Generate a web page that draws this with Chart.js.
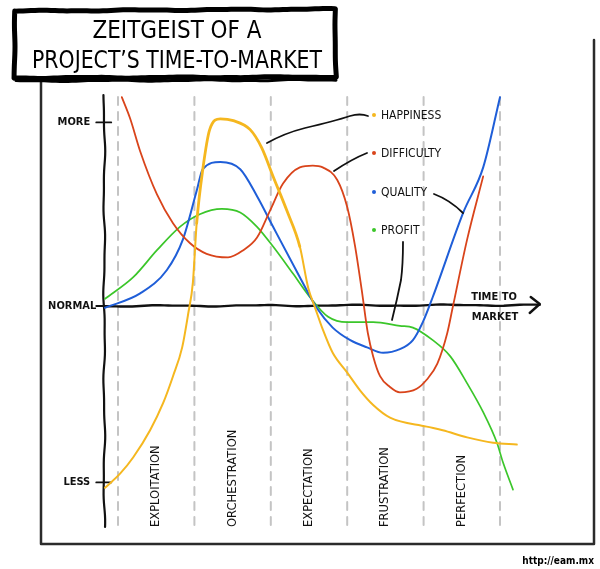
<!DOCTYPE html>
<html>
<head>
<meta charset="utf-8">
<script src="https://cdn.jsdelivr.net/npm/chart.js@4.4.1/dist/chart.umd.min.js"></script>
<style>
  html, body { margin:0; padding:0; background:#fff; }
  #wrap { width:600px; height:569px; }
</style>
</head>
<body>
<div id="wrap"><canvas id="chart" width="600" height="569"></canvas></div>
<script>
// ── data ─────────────────────────────────────
const phases      = ['EXPLOITATION','ORCHESTRATION','EXPECTATION','FRUSTRATION','PERFECTION'];
const phaseEdges  = [0, 1, 2, 3, 4, 5];
const yTickLabels = ['MORE', 'NORMAL', 'LESS'];
const yTickValues = [1.02, 0, -0.98];

// [phase position, level]  (NORMAL = 0, MORE ≈ 1, LESS ≈ -1)
const happiness = [[-0.17,-1.01],[0.03,-0.93],[0.20,-0.84],[0.42,-0.69],[0.59,-0.54],[0.72,-0.39],
  [0.84,-0.23],[0.92,-0.04],[0.98,0.13],[1.03,0.46],[1.11,0.76],[1.20,0.98],[1.34,1.04],[1.51,1.03],
  [1.73,0.98],[1.88,0.88],[2.03,0.72],[2.21,0.53],[2.38,0.33],[2.49,0.10],[2.58,-0.01],[2.68,-0.13],
  [2.81,-0.26],[3.00,-0.37],[3.17,-0.47],[3.34,-0.55],[3.56,-0.62],[4.04,-0.67],[4.25,-0.69],
  [4.57,-0.73],[4.91,-0.76],[5.22,-0.77]];
const difficulty = [[0.05,1.16],[0.16,1.04],[0.29,0.86],[0.51,0.62],[0.72,0.46],[0.94,0.35],[1.16,0.29],
  [1.44,0.27],[1.64,0.31],[1.82,0.38],[1.99,0.53],[2.16,0.68],[2.38,0.77],[2.55,0.78],[2.68,0.77],
  [2.87,0.70],[3.00,0.55],[3.10,0.34],[3.19,0.09],[3.27,-0.15],[3.34,-0.28],[3.43,-0.39],[3.56,-0.45],
  [3.69,-0.48],[3.91,-0.46],[4.04,-0.41],[4.18,-0.32],[4.31,-0.15],[4.38,-0.01],[4.57,0.37],[4.78,0.72]];
const quality = [[-0.17,-0.01],[0.29,0.07],[0.64,0.20],[0.85,0.37],[1.03,0.64],[1.11,0.76],[1.34,0.80],
  [1.60,0.76],[1.82,0.61],[2.03,0.44],[2.38,0.16],[2.60,-0.01],[2.81,-0.12],[3.04,-0.19],[3.26,-0.23],
  [3.47,-0.26],[3.69,-0.24],[3.86,-0.19],[3.99,-0.09],[4.12,0.05],[4.52,0.52],[4.78,0.77],[5.00,1.16]];
const profit = [[-0.17,0.04],[0.20,0.16],[0.51,0.31],[0.81,0.44],[1.07,0.51],[1.36,0.54],[1.60,0.52],
  [1.82,0.44],[2.03,0.33],[2.29,0.18],[2.51,0.05],[2.75,-0.06],[3.00,-0.09],[3.34,-0.09],[3.69,-0.11],
  [3.86,-0.12],[4.12,-0.19],[4.35,-0.28],[4.57,-0.43],[4.78,-0.59],[4.96,-0.76],[5.04,-0.87],[5.17,-1.02]];

const FONT  = '"DejaVu Sans Condensed","DejaVu Sans",sans-serif';
const FONTW = '"DejaVu Sans",sans-serif';
const INK   = '#111';

const toXY = arr => arr.map(([x,y]) => ({ x, y }));

// ── sketchy helpers ───────────────────────────
function rough(ctx, pts, amp, seed) {
  ctx.beginPath();
  let first = true, dist = 0;
  for (let i = 0; i < pts.length-1; i++) {
    const [x1,y1] = pts[i], [x2,y2] = pts[i+1];
    const len = Math.hypot(x2-x1, y2-y1) || 1;
    const n = Math.max(2, Math.round(len/4));
    const nx = -(y2-y1)/len, ny = (x2-x1)/len;
    for (let k = 0; k <= n; k++) {
      const t = k/n, d = dist + len*t;
      const o = amp*(0.7*Math.sin(d/15 + seed) + 0.3*Math.sin(d/6.5 + seed*2.3));
      const px = x1+(x2-x1)*t+nx*o, py = y1+(y2-y1)*t+ny*o;
      if (first) { ctx.moveTo(px,py); first = false; } else ctx.lineTo(px,py);
    }
    dist += len;
  }
  ctx.stroke();
}

function fitText(ctx, txt, cx, y, w) {
  const m = ctx.measureText(txt).width;
  ctx.save();
  ctx.translate(cx, y);
  ctx.scale(w/m, 1);
  ctx.textAlign = 'center';
  ctx.fillText(txt, 0, 0);
  ctx.restore();
}

const sketch = {
  id: 'sketch',
  beforeDraw(chart) {
    const ctx = chart.ctx;
    ctx.save();
    ctx.fillStyle = '#fff';
    ctx.fillRect(0, 0, chart.width, chart.height);
    ctx.restore();
  },
  beforeDatasetsDraw(chart) {
    const { ctx, scales: { x, y } } = chart;
    ctx.save();
    ctx.lineCap = 'round'; ctx.lineJoin = 'round';

    // frame
    ctx.strokeStyle = '#2b2b2b'; ctx.lineWidth = 2.5;
    ctx.beginPath(); ctx.moveTo(41, 82); ctx.lineTo(41, 544); ctx.lineTo(594, 544); ctx.lineTo(594, 40); ctx.stroke();

    // dashed phase boundaries
    ctx.strokeStyle = '#c4c4c4'; ctx.lineWidth = 2; ctx.setLineDash([8, 7]);
    phaseEdges.forEach(v => {
      const px = x.getPixelForValue(v);
      ctx.beginPath(); ctx.moveTo(px, 97); ctx.lineTo(px, 527); ctx.stroke();
    });
    ctx.setLineDash([]);

    // axes
    const ax = x.getPixelForValue(-0.18), ay = y.getPixelForValue(0);
    ctx.strokeStyle = INK; ctx.lineWidth = 2.2;
    rough(ctx, [[ax, 95], [ax, 527]], 1.0, 1);
    ctx.lineWidth = 2.4;
    const tip = x.getPixelForValue(5.52);
    rough(ctx, [[ax, ay], [tip, ay-1]], 0.8, 7);
    ctx.beginPath(); ctx.moveTo(tip-9, ay-9); ctx.lineTo(tip, ay-2); ctx.lineTo(tip-10, ay+7); ctx.stroke();

    // y ticks + labels
    ctx.fillStyle = INK; ctx.font = 'bold 11px ' + FONT;
    ctx.textAlign = 'right'; ctx.textBaseline = 'middle';
    yTickValues.forEach((v, i) => {
      const py = y.getPixelForValue(v);
      ctx.lineWidth = 1.8;
      ctx.beginPath(); ctx.moveTo(ax-8, py); ctx.lineTo(ax + (i === 1 ? 0 : 7), py); ctx.stroke();
      ctx.fillText(yTickLabels[i], ax - (i === 1 ? 8 : 14), py);
    });

    // phase names
    ctx.font = '11.5px ' + FONTW; ctx.textAlign = 'left'; ctx.textBaseline = 'middle';
    phases.forEach((p, i) => {
      const px = x.getPixelForValue(i + 0.5);
      ctx.save(); ctx.translate(px, 527); ctx.rotate(-Math.PI/2);
      ctx.fillText(p, 0, 0); ctx.restore();
    });

    // time to market
    ctx.font = 'bold 11px ' + FONT; ctx.textAlign = 'center'; ctx.textBaseline = 'alphabetic';
    ctx.fillText('TIME TO', 494, 300);
    ctx.fillText('MARKET', 495, 320);
    ctx.restore();
  },
  afterDatasetsDraw(chart) {
    const ctx = chart.ctx;
    const ds = chart.data.datasets;
    ctx.save();
    ctx.lineCap = 'round'; ctx.lineJoin = 'round';

    // legend
    const ly = [115, 153, 192, 230];
    ctx.font = '12px ' + FONT; ctx.textBaseline = 'middle'; ctx.textAlign = 'left';
    ds.forEach((d, i) => {
      ctx.fillStyle = d.borderColor;
      ctx.beginPath(); ctx.arc(374, ly[i], 2, 0, Math.PI*2); ctx.fill();
      ctx.fillStyle = INK;
      ctx.fillText(d.label, 381, ly[i] + 0.5);
    });

    // leader lines
    ctx.strokeStyle = INK; ctx.lineWidth = 1.8;
    ctx.beginPath(); ctx.moveTo(267, 143); ctx.quadraticCurveTo(285, 133, 305, 128);
    ctx.quadraticCurveTo(335, 121, 350, 116); ctx.quadraticCurveTo(360, 113, 368, 116); ctx.stroke();
    ctx.beginPath(); ctx.moveTo(334, 171); ctx.quadraticCurveTo(352, 159, 367, 153); ctx.stroke();
    ctx.beginPath(); ctx.moveTo(434, 194); ctx.quadraticCurveTo(450, 200, 463, 213); ctx.stroke();
    ctx.beginPath(); ctx.moveTo(403, 242); ctx.quadraticCurveTo(403, 265, 401, 280);
    ctx.quadraticCurveTo(397, 300, 392, 320); ctx.stroke();

    // title box
    ctx.strokeStyle = '#000'; ctx.lineWidth = 5;
    rough(ctx, [[15, 11], [335, 9], [336, 77], [14, 78], [15, 11]], 0.6, 3);
    ctx.lineWidth = 3;
    rough(ctx, [[16, 81], [336, 80]], 0.7, 11);
    ctx.fillStyle = '#000';
    ctx.font = '25px ' + FONT; ctx.textBaseline = 'alphabetic';
    fitText(ctx, 'ZEITGEIST OF A', 177, 38, 169);
    fitText(ctx, 'PROJECT\u2019S TIME-TO-MARKET', 177, 68, 290);

    // url
    ctx.font = 'bold 10px ' + FONT; ctx.textAlign = 'right'; ctx.textBaseline = 'alphabetic';
    ctx.fillText('http://eam.mx', 594, 564);
    ctx.restore();
  }
};

const peakWidth = c => (c.p0.parsed.x >= 1.0 && c.p1.parsed.x <= 2.45) ? 2.8 : 2;

new Chart(document.getElementById('chart'), {
  type: 'line',
  data: {
    datasets: [
      { label: 'HAPPINESS',  data: toXY(happiness),  borderColor: '#f5b71f', borderWidth: 2, clip: false,
        segment: { borderWidth: peakWidth } },
      { label: 'DIFFICULTY', data: toXY(difficulty), borderColor: '#d9441b', borderWidth: 1.8, clip: false },
      { label: 'QUALITY',    data: toXY(quality),    borderColor: '#1f5ed8', borderWidth: 2,   clip: false },
      { label: 'PROFIT',     data: toXY(profit),     borderColor: '#3bc62a', borderWidth: 1.7, clip: false }
    ]
  },
  options: {
    responsive: false,
    animation: false,
    layout: { padding: { left: 102.72, right: 38.88, top: 90, bottom: 38 } },
    elements: {
      point: { radius: 0, hoverRadius: 0 },
      line: { cubicInterpolationMode: 'monotone', borderCapStyle: 'round', borderJoinStyle: 'round', fill: false }
    },
    scales: {
      x: { type: 'linear', min: -0.2, max: 5.8, display: false },
      y: { type: 'linear', min: -1.25, max: 1.2, display: false }
    },
    plugins: { legend: { display: false }, tooltip: { enabled: false } },
    events: []
  },
  plugins: [sketch]
});
</script>
</body>
</html>
